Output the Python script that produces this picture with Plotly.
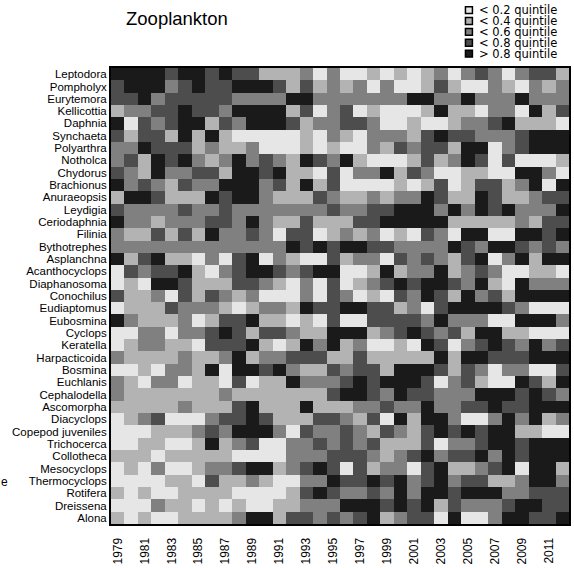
import plotly.graph_objects as go

# Taxa (top to bottom) and sampling years
taxa = ["Leptodora", "Pompholyx", "Eurytemora", "Kellicottia", "Daphnia", "Synchaeta",
        "Polyarthra", "Notholca", "Chydorus", "Brachionus", "Anuraeopsis", "Leydigia",
        "Ceriodaphnia", "Filinia", "Bythotrephes", "Asplanchna", "Acanthocyclops",
        "Diaphanosoma", "Conochilus", "Eudiaptomus", "Eubosmina", "Cyclops", "Keratella",
        "Harpacticoida", "Bosmina", "Euchlanis", "Cephalodella", "Ascomorpha", "Diacyclops",
        "Copepod juveniles", "Trichocerca", "Collotheca", "Mesocyclops", "Thermocyclops",
        "Rotifera", "Dreissena", "Alona"]
years = list(range(1979, 2013))
year_ticks = list(range(1979, 2012, 2))

# Quintile class of each taxon's abundance per year (1 = lowest ... 5 = highest)
Leptodora = [5,5,5,5,4,5,5,4,5,4,4,2,2,2,3,1,3,1,1,2,1,2,1,2,3,1,3,4,3,1,3,4,4,2]
Pompholyx = [4,5,5,5,3,4,5,4,4,5,5,5,4,2,4,2,3,2,3,1,3,1,1,2,4,2,1,1,3,2,1,3,2,3]
Eurytemora = [4,4,5,3,4,4,4,4,4,3,3,3,3,5,5,3,3,3,3,3,3,3,5,5,3,3,5,3,3,3,5,3,3,3]
Kellicottia = [2,3,3,4,4,5,4,4,3,5,5,5,5,2,4,1,3,4,1,2,1,1,1,2,5,2,2,1,3,3,1,5,2,4]
Daphnia = [5,1,4,3,4,5,5,2,4,3,5,5,5,4,2,3,3,4,4,3,1,1,2,1,1,2,3,3,4,5,2,2,2,1]
Synchaeta = [4,2,4,4,2,5,2,5,2,1,1,1,1,1,2,1,3,2,1,3,3,3,2,4,5,4,4,3,3,3,4,5,5,5]
Polyarthra = [3,3,5,4,4,4,2,3,2,2,3,1,1,1,2,1,2,1,1,3,2,4,3,4,4,2,5,5,1,3,4,5,5,5]
Notholca = [3,4,2,5,4,5,3,2,3,5,3,4,3,2,5,4,3,5,2,1,1,1,2,4,2,3,5,4,1,4,1,1,1,2]
Chydorus = [4,3,2,5,3,3,4,4,2,5,5,4,5,2,2,1,4,1,3,3,5,2,4,3,1,1,2,2,1,1,5,5,3,1]
Brachionus = [5,3,4,3,2,4,3,3,5,5,5,3,4,2,5,2,4,1,1,1,1,2,1,2,4,1,2,4,4,2,3,5,1,5]
Anuraeopsis = [2,5,5,4,2,2,2,5,4,5,5,3,2,2,2,4,3,2,2,3,2,3,3,5,4,2,2,5,4,2,2,3,4,4]
Leydigia = [4,3,3,3,3,4,3,3,4,3,3,3,3,3,3,3,4,3,3,4,4,5,5,5,3,5,3,5,4,5,3,3,3,5]
Ceriodaphnia = [5,3,3,2,3,3,3,4,4,3,5,3,2,2,4,2,2,2,4,4,5,5,5,5,5,2,2,2,2,2,3,2,4,4]
Filinia = [3,2,2,4,2,4,2,5,3,3,4,3,1,4,4,1,2,3,2,3,1,2,1,4,3,1,5,5,1,1,5,5,4,5]
Bythotrephes = [3,3,3,3,3,3,3,3,3,3,3,3,3,5,4,5,4,5,5,4,4,3,3,3,3,5,4,3,5,5,4,3,4,3]
Asplanchna = [5,2,4,5,2,2,1,3,1,4,5,1,3,2,1,1,4,2,3,3,1,4,3,4,3,2,4,5,1,3,5,2,5,5]
Acanthocyclops = [1,4,3,4,4,5,2,1,3,4,5,5,4,3,4,5,5,1,1,2,5,2,3,3,5,2,3,4,3,1,1,2,2,1]
Diaphanosoma = [1,2,1,5,5,4,2,2,2,4,4,3,2,1,3,1,4,1,2,3,4,5,4,5,5,4,3,5,2,1,5,3,3,3]
Conochilus = [4,2,2,3,1,4,2,4,3,2,3,1,1,1,3,1,4,3,1,2,1,4,3,5,4,2,5,3,4,2,5,5,5,5]
Eudiaptomus = [1,2,2,2,4,3,3,3,2,1,2,3,3,2,5,4,4,5,5,4,4,2,3,1,4,5,5,5,5,4,3,1,1,1]
Eubosmina = [5,3,2,2,2,3,1,2,4,4,5,2,2,1,2,1,4,1,1,4,4,4,4,3,5,3,3,3,1,1,5,5,5,3]
Cyclops = [1,1,3,3,1,3,3,4,5,4,2,4,4,3,2,2,5,5,5,2,3,4,5,4,3,4,2,5,5,2,2,1,1,1]
Keratella = [1,2,3,3,2,2,1,4,4,4,5,2,1,2,5,3,5,2,3,1,1,2,1,5,4,1,3,4,5,4,3,5,3,4]
Harpacticoida = [3,2,2,2,2,3,2,2,3,5,2,3,3,4,4,4,2,2,4,2,2,2,2,2,5,2,5,5,4,4,4,5,5,5]
Bosmina = [1,1,2,1,3,3,2,5,1,5,5,4,5,3,2,2,4,3,4,4,2,5,5,5,4,2,4,3,1,3,3,1,1,4]
Euchlanis = [3,2,1,3,3,1,2,2,1,4,1,2,2,5,3,3,3,4,5,4,5,5,5,4,1,3,4,2,1,1,5,4,2,5]
Cephalodella = [3,2,2,2,2,2,2,2,3,2,2,2,2,2,2,2,4,5,5,4,3,5,4,4,3,3,3,5,5,5,4,5,4,3]
Ascomorpha = [2,2,2,2,2,3,2,2,2,4,5,2,2,2,5,2,2,2,3,3,4,3,3,5,3,3,4,4,5,4,4,5,5,5]
Diacyclops = [1,2,3,4,1,1,1,3,4,4,5,4,2,2,2,4,4,3,2,4,1,5,2,5,5,3,1,1,3,5,3,5,2,3]
Copepod_juveniles = [1,1,1,2,2,2,3,4,3,5,5,5,3,1,4,3,3,4,3,2,4,3,2,4,5,4,5,4,5,5,2,2,1,1]
Trichocerca = [1,1,2,2,1,1,2,5,2,3,4,1,1,3,3,4,3,4,3,4,2,2,2,4,1,3,3,4,5,5,4,5,5,5]
Collotheca = [2,2,2,1,2,2,2,2,2,1,1,1,1,3,3,3,4,4,4,3,2,3,4,5,3,4,4,5,3,5,4,5,5,5]
Mesocyclops = [1,2,1,3,1,1,2,3,3,4,5,5,2,3,4,5,4,1,4,2,3,3,1,4,5,2,2,3,4,5,1,5,5,2]
Thermocyclops = [1,1,1,1,2,2,1,4,2,2,3,2,1,1,3,3,5,4,4,5,4,5,3,4,5,3,4,4,2,2,3,5,5,3]
Rotifera = [2,1,2,1,1,2,2,2,2,1,1,1,1,2,4,5,4,3,3,4,3,5,3,5,5,4,5,5,5,3,3,4,4,4]
Dreissena = [1,1,1,3,2,2,1,2,1,2,1,1,2,2,3,3,3,5,5,5,4,5,4,5,2,4,3,3,3,4,5,5,4,4]
Alona = [2,1,2,1,1,2,2,2,2,3,5,5,2,4,4,3,4,3,4,5,2,3,4,4,1,5,1,1,3,5,5,4,4,5]

quintile_rows = [Leptodora, Pompholyx, Eurytemora, Kellicottia, Daphnia, Synchaeta,
                 Polyarthra, Notholca, Chydorus, Brachionus, Anuraeopsis, Leydigia,
                 Ceriodaphnia, Filinia, Bythotrephes, Asplanchna, Acanthocyclops,
                 Diaphanosoma, Conochilus, Eudiaptomus, Eubosmina, Cyclops, Keratella,
                 Harpacticoida, Bosmina, Euchlanis, Cephalodella, Ascomorpha, Diacyclops,
                 Copepod_juveniles, Trichocerca, Collotheca, Mesocyclops, Thermocyclops,
                 Rotifera, Dreissena, Alona]

class_labels = ["< 0.2 quintile", "< 0.4 quintile", "< 0.6 quintile", "< 0.8 quintile", "> 0.8 quintile"]
greys = ["#e6e6e6", "#b3b3b3", "#808080", "#4d4d4d", "#1a1a1a"]

# Figure geometry (pixels)
W, H = 574, 568
L, R, T, B = 111, 3, 68, 39
PW, PH = W - L - R, H - T - B


def px(x):
    return (x - L) / PW


def py(y):
    return (H - B - y) / PH


# Discrete grey colour scale for classes 1..5
cs = []
for i, g in enumerate(greys):
    cs.append([i / 5, g])
    cs.append([(i + 1) / 5, g])

fig = go.Figure(go.Heatmap(
    z=quintile_rows, x=years, y=taxa,
    zmin=0.5, zmax=5.5, colorscale=cs, showscale=False,
    xgap=0, ygap=0, hoverinfo="skip",
))

font_family = "Liberation Sans, Arial, sans-serif"
key_family = "DejaVu Sans, sans-serif"

fig.update_layout(
    width=W, height=H,
    margin=dict(l=L, r=R, t=T, b=B),
    paper_bgcolor="white", plot_bgcolor="white",
    font=dict(family=font_family, size=12, color="black"),
    showlegend=False,
)
fig.update_xaxes(
    range=[years[0] - 0.5, years[-1] + 0.5],
    tickmode="array", tickvals=year_ticks, ticktext=[str(y) for y in year_ticks],
    tickangle=-90, ticks="", showgrid=False, zeroline=False,
    showline=True, linecolor="black", linewidth=2, mirror=True,
    ticklabelstandoff=7, tickfont=dict(size=12),
)
fig.update_yaxes(
    autorange="reversed", ticks="", showgrid=False, zeroline=False,
    showline=True, linecolor="black", linewidth=2, mirror=True,
    tickmode="array", tickvals=taxa, ticktext=taxa,
    ticklabelstandoff=0, tickfont=dict(size=11.5),
    categoryorder="array", categoryarray=taxa,
)

# Panel title
fig.add_annotation(text="Zooplankton", x=px(124), y=py(18), xref="paper", yref="paper",
                   xanchor="left", yanchor="middle", showarrow=False,
                   font=dict(size=18.5, family=font_family))

# Clipped axis text at the far left
fig.add_annotation(text="e", x=px(-1), y=py(487), xref="paper", yref="paper",
                   xanchor="left", yanchor="middle", showarrow=False,
                   font=dict(size=12, family=font_family))

# Class key: bordered squares with labels
key_y = [9.5, 20.5, 31.5, 42.5, 53.5]
for yy, lab, g in zip(key_y, class_labels, greys):
    fig.add_shape(type="rect", xref="paper", yref="paper",
                  x0=px(467), x1=px(474), y0=py(yy + 3.5), y1=py(yy - 3.5),
                  fillcolor=g, line=dict(color="black", width=1.5))
    fig.add_annotation(text=lab, x=px(479), y=py(yy), xref="paper", yref="paper",
                       xanchor="left", yanchor="middle", showarrow=False,
                       font=dict(size=11.5, family=key_family))

fig.write_html("out.html")
